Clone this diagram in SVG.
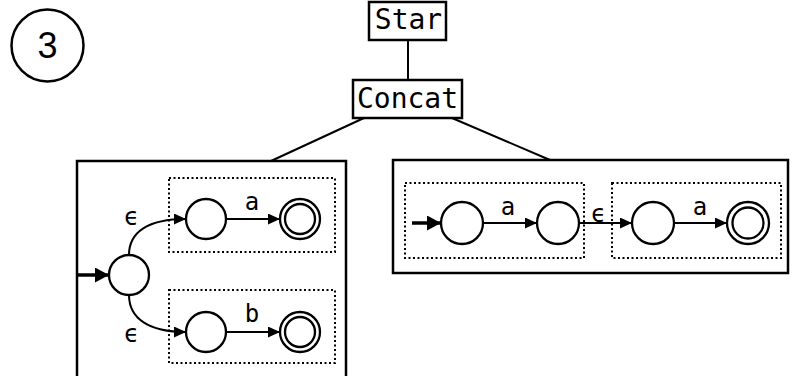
<svg xmlns="http://www.w3.org/2000/svg" width="799" height="376" viewBox="0 0 799 376">
<defs>
<marker id="ah" markerUnits="userSpaceOnUse" markerWidth="12" markerHeight="11" refX="12" refY="5.5" orient="auto"><path d="M0,0 L12,5.5 L0,11 z" fill="#000"/></marker>
<marker id="ahs" markerUnits="userSpaceOnUse" markerWidth="14" markerHeight="15" refX="14" refY="7.5" orient="auto"><path d="M0,0 L14,7.5 L0,15 z" fill="#000"/></marker>
</defs>
<style>
.box{fill:#fff;stroke:#000;stroke-width:2.5}
.dot{fill:none;stroke:#000;stroke-width:2;stroke-dasharray:2 2.5}
.st{fill:#fff;stroke:#000;stroke-width:2.3}
.tr{fill:none;stroke:#000;stroke-width:2;marker-end:url(#ah)}
.start{fill:none;stroke:#000;stroke-width:3.5;marker-end:url(#ahs)}
.lbl{font-family:"DejaVu Sans Mono",monospace;font-size:24px;text-anchor:middle;fill:#000}
.tl{font-family:"DejaVu Sans Mono",monospace;font-size:28px;text-anchor:middle;fill:#000}
.edge{stroke:#000;stroke-width:2;fill:none}
</style>
<g id="label3">
<circle cx="47.5" cy="45.5" r="36" fill="#fff" stroke="#000" stroke-width="2.5"/>
<text x="47.5" y="58" font-family="Liberation Sans, Arial, sans-serif" font-size="36" text-anchor="middle">3</text>
</g>
<g id="connectors">
<line class="edge" x1="408" y1="40" x2="408" y2="80"/>
<line class="edge" x1="364" y1="118" x2="271" y2="161"/>
<line class="edge" x1="452" y1="118" x2="550" y2="160"/>
</g>
<g id="star">
<rect class="box" x="369" y="2" width="77" height="38"/>
<text class="tl" x="408.5" y="29">Star</text>
</g>
<g id="concat">
<rect class="box" x="353" y="80" width="109" height="38"/>
<text class="tl" x="407.5" y="108">Concat</text>
</g>
<g id="left">
<rect class="box" x="77" y="161" width="269" height="230"/>
<rect class="dot" x="169" y="178" width="166" height="74"/>
<rect class="dot" x="169" y="290" width="166" height="73"/>
<line class="start" x1="77" y1="275" x2="109" y2="275"/>
<path class="tr" d="M129,255 C129,232 148,219 186,219"/>
<path class="tr" d="M129,295 C129,318 148,332 186,332"/>
<line class="tr" x1="226" y1="219" x2="280" y2="219"/>
<line class="tr" x1="226" y1="332" x2="280" y2="332"/>
<circle class="st" cx="129" cy="275" r="20"/>
<circle class="st" cx="206" cy="219" r="20"/>
<circle class="st" cx="300" cy="219" r="20"/>
<circle class="st" cx="300" cy="219" r="15"/>
<circle class="st" cx="206" cy="332" r="20"/>
<circle class="st" cx="300" cy="332" r="20"/>
<circle class="st" cx="300" cy="332" r="15"/>
<text class="lbl" x="131" y="225">ϵ</text>
<text class="lbl" x="131" y="342">ϵ</text>
<text class="lbl" x="252" y="210">a</text>
<text class="lbl" x="252" y="322">b</text>
</g>
<g id="right">
<rect class="box" x="393" y="160" width="395" height="113"/>
<rect class="dot" x="405" y="183" width="179" height="75"/>
<rect class="dot" x="612" y="183" width="169" height="75"/>
<line class="start" x1="412" y1="223" x2="441" y2="223"/>
<line class="tr" x1="483" y1="223" x2="537" y2="223"/>
<line class="tr" x1="579" y1="223" x2="632" y2="223"/>
<line class="tr" x1="674" y1="223" x2="727" y2="223"/>
<circle class="st" cx="462" cy="223" r="21"/>
<circle class="st" cx="558" cy="223" r="21"/>
<circle class="st" cx="653" cy="223" r="21"/>
<circle class="st" cx="748" cy="223" r="21"/>
<circle class="st" cx="748" cy="223" r="15.5"/>
<text class="lbl" x="508" y="215">a</text>
<text class="lbl" x="598" y="222">ϵ</text>
<text class="lbl" x="700" y="215">a</text>
</g>
</svg>
